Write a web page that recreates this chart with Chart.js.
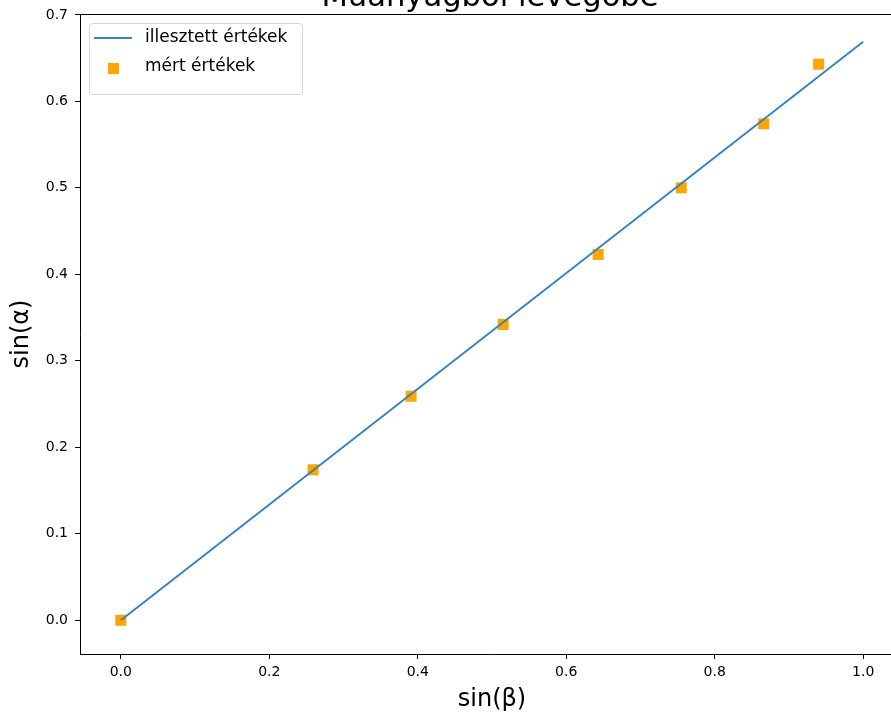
<!DOCTYPE html>
<html>
<head>
<meta charset="utf-8">
<script src="https://cdn.jsdelivr.net/npm/chart.js@4/dist/chart.umd.min.js"></script>
<style>
  html, body { margin: 0; padding: 0; background: #fff; overflow: hidden; }
  #wrap { position: absolute; left: 0; top: -30px; width: 984px; height: 746px; }
</style>
</head>
<body>
<div id="wrap"><canvas id="chart"></canvas></div>
<script>
// measured values: sin(beta) vs sin(alpha)
var sinBeta = [0, 0.259, 0.391, 0.515, 0.643, 0.755, 0.866, 0.940];
var sinAlpha = [0, 0.174, 0.259, 0.342, 0.423, 0.500, 0.574, 0.643];

// fitted line
var fitX = [0, 1.0];
var fitY = [0, 0.669];

var xTicks = [0.0, 0.2, 0.4, 0.6, 0.8, 1.0];
var yTicks = [0.0, 0.1, 0.2, 0.3, 0.4, 0.5, 0.6, 0.7];

var titleText = 'Műanyagból levegőbe';
var xLabel = 'sin(β)';
var yLabel = 'sin(α)';
var fitLabel = 'illesztett értékek';
var measLabel = 'mért értékek';

var lineColor = '#3585c1';
var markerColor = '#ffa500';
var fontFamily = '"DejaVu Sans", sans-serif';

function toPoints(xs, ys) {
  var pts = [];
  for (var i = 0; i < xs.length; i++) {
    pts.push({ x: xs[i], y: ys[i] });
  }
  return pts;
}

// title centred over the plot area, plus top/right spine like matplotlib's frame
var framePlugin = {
  id: 'frame',
  afterDraw: function(chart) {
    var a = chart.chartArea;
    var ctx = chart.ctx;
    ctx.save();
    ctx.strokeStyle = '#000';
    ctx.lineWidth = 1;
    ctx.beginPath();
    ctx.moveTo(a.left, a.top + 0.5);
    ctx.lineTo(a.right, a.top + 0.5);
    ctx.lineTo(a.right, a.bottom);
    ctx.stroke();

    ctx.fillStyle = '#000';
    ctx.font = '30.6px ' + fontFamily;
    ctx.textAlign = 'center';
    ctx.textBaseline = 'alphabetic';
    ctx.fillText(titleText, (a.left + a.right) / 2 - 2, a.top - 8);
    ctx.restore();
  }
};

// legend box in the upper left corner
var legendPlugin = {
  id: 'boxLegend',
  afterDraw: function(chart) {
    var a = chart.chartArea;
    var ctx = chart.ctx;
    var x0 = a.left + 9, y0 = a.top + 9, w = 213, h = 71;
    ctx.save();
    ctx.fillStyle = 'rgba(255,255,255,0.8)';
    ctx.strokeStyle = '#d6d6d6';
    ctx.lineWidth = 1;
    ctx.beginPath();
    ctx.roundRect(x0 + 0.5, y0 + 0.5, w, h, 3);
    ctx.fill();
    ctx.stroke();

    // line sample
    ctx.strokeStyle = lineColor;
    ctx.lineWidth = 2;
    ctx.beginPath();
    ctx.moveTo(a.left + 14, y0 + 15);
    ctx.lineTo(a.left + 52, y0 + 15);
    ctx.stroke();

    // square sample
    ctx.fillStyle = markerColor;
    ctx.fillRect(a.left + 28, y0 + 40, 11, 11);

    ctx.fillStyle = '#000';
    ctx.font = '17px ' + fontFamily;
    ctx.textBaseline = 'middle';
    ctx.fillText(chart.data.datasets[0].label, a.left + 65, y0 + 15);
    ctx.fillText(chart.data.datasets[1].label, a.left + 65, y0 + 44);
    ctx.restore();
  }
};

var ctx = document.getElementById('chart');

new Chart(ctx, {
  type: 'scatter',
  data: {
    datasets: [{
      type: 'line',
      label: fitLabel,
      data: toPoints(fitX, fitY),
      borderColor: lineColor,
      backgroundColor: lineColor,
      borderWidth: 2,
      pointRadius: 0,
      fill: false
    }, {
      label: measLabel,
      data: toPoints(sinBeta, sinAlpha),
      pointStyle: 'rect',
      pointRadius: 7.8,
      backgroundColor: markerColor,
      borderColor: markerColor,
      borderWidth: 0
    }]
  },
  options: {
    responsive: true,
    maintainAspectRatio: false,
    animation: false,
    layout: { padding: { left: 0, right: 80, top: 44, bottom: 0 } },
    plugins: {
      legend: { display: false },
      tooltip: { enabled: false },
      title: { display: false }
    },
    scales: {
      x: {
        type: 'linear',
        min: -0.055,
        max: 1.055,
        afterFit: function(axis) { axis.height = 62; },
        afterBuildTicks: function(axis) {
          axis.ticks = xTicks.map(function(v) { return { value: v }; });
        },
        ticks: {
          color: '#000',
          padding: 5,
          maxRotation: 0,
          font: { family: fontFamily, size: 14 },
          callback: function(v) { return Number(v).toFixed(1); }
        },
        grid: { display: true, drawOnChartArea: false, drawTicks: true, tickLength: 5, color: '#000' },
        border: { display: true, color: '#000', width: 1 },
        title: {
          display: true,
          text: xLabel,
          color: '#000',
          font: { family: fontFamily, size: 24 },
          padding: { top: 0, bottom: 2 }
        }
      },
      y: {
        type: 'linear',
        min: -0.039,
        max: 0.701,
        afterFit: function(axis) { axis.width = 80; },
        afterBuildTicks: function(axis) {
          axis.ticks = yTicks.map(function(v) { return { value: v }; });
        },
        ticks: {
          color: '#000',
          padding: 7,
          font: { family: fontFamily, size: 14 },
          callback: function(v) { return Number(v).toFixed(1); }
        },
        grid: { display: true, drawOnChartArea: false, drawTicks: true, tickLength: 5, color: '#000' },
        border: { display: true, color: '#000', width: 1 },
        title: {
          display: true,
          text: yLabel,
          color: '#000',
          font: { family: fontFamily, size: 24 },
          padding: { top: 7, bottom: 0 }
        }
      }
    }
  },
  plugins: [framePlugin, legendPlugin]
});
</script>
</body>
</html>
